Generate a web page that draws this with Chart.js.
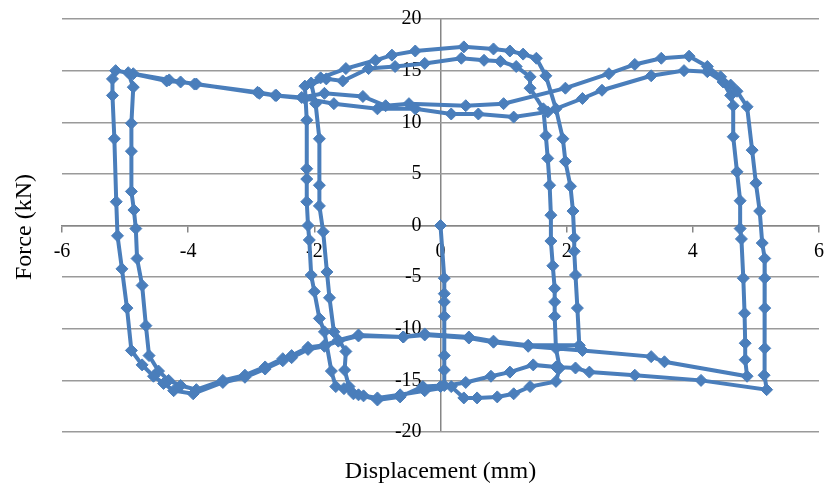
<!DOCTYPE html>
<html>
<head>
<meta charset="utf-8">
<script src="https://cdn.jsdelivr.net/npm/chart.js@4.4.1/dist/chart.umd.min.js"></script>
<style>
  html, body { margin: 0; padding: 0; background: #fff; }
  #wrap { width: 832px; height: 487px; }
</style>
</head>
<body>
<div id="wrap"><canvas id="chart"></canvas></div>
<script>
// [displacement (mm), force (kN)], in test order
var startPath = [[0, 0], [0.06, -5.1], [0.06, -6.6], [0.06, -7.4], [0.06, -8.8], [0.06, -12.6], [0.06, -14.0], [0.06, -15.5],
    [-0.28, -15.6], [-0.64, -16.6], [-1.0, -16.9], [-1.22, -16.5], [-1.38, -16.3], [-1.53, -15.8], [-1.66, -15.6], [-1.73, -14.1]];

var smallCycle1 = [[-1.84, -10.3], [-1.92, -9.0], [-2.00, -6.4], [-2.05, -4.8], [-2.08, -1.4], [-2.10, 0.0], [-2.12, 2.3],
    [-2.12, 4.5], [-2.12, 5.5], [-2.12, 10.2], [-2.15, 13.5],
    [-1.81, 14.2], [-1.55, 14.0], [-1.14, 15.2], [-0.72, 15.4], [-0.25, 15.7], [0.33, 16.2], [0.69, 16.0], [0.95, 15.9], [1.20, 15.4], [1.42, 14.4],
    [1.42, 13.3], [1.63, 11.3], [1.67, 8.7], [1.70, 6.5], [1.73, 3.9], [1.75, 1.0], [1.75, -1.5], [1.78, -3.9], [1.81, -6.1], [1.81, -7.4],
    [1.81, -8.8], [1.83, -11.9], [1.89, -13.8], [1.83, -15.1], [1.42, -15.6], [1.16, -16.3], [0.90, -16.6], [0.58, -16.7], [0.37, -16.7],
    [0.17, -15.6], [-0.25, -16.0], [-0.64, -16.4], [-1.00, -16.7], [-1.30, -16.4], [-1.45, -15.6]];

var smallCycle2 = [[-1.52, -14.0], [-1.50, -12.2], [-1.69, -10.3], [-1.76, -7.0], [-1.80, -4.5], [-1.86, -0.6], [-1.92, 1.9],
    [-1.92, 3.9], [-1.92, 8.4], [-1.98, 11.8], [-2.05, 13.8], [-1.90, 14.3], [-1.50, 15.2], [-1.03, 16.0], [-0.77, 16.5], [-0.40, 16.9],
    [0.37, 17.3], [0.84, 17.1], [1.10, 16.9], [1.31, 16.6], [1.52, 16.2], [1.67, 14.5], [1.83, 11.3], [1.94, 8.4], [1.98, 6.2], [2.06, 3.8],
    [2.10, 1.4], [2.12, -1.2], [2.12, -2.5], [2.14, -4.8], [2.17, -8.0], [2.20, -11.6]];

var largeCycle1 = [[1.39, -11.6], [0.84, -11.2], [0.45, -10.8], [-0.25, -10.5], [-0.59, -10.8], [-1.30, -10.6], [-1.62, -11.1], [-1.84, -11.6],
    [-2.10, -11.8], [-2.36, -12.6], [-2.50, -12.9], [-2.78, -13.7], [-3.10, -14.5], [-3.45, -15.0], [-3.87, -15.9], [-4.12, -15.5],
    [-4.31, -15.0], [-4.47, -14.1], [-4.62, -12.6], [-4.67, -9.7], [-4.73, -5.8], [-4.81, -3.2], [-4.83, -0.3], [-4.86, 1.5], [-4.90, 3.3],
    [-4.90, 7.2], [-4.90, 9.9], [-4.87, 13.4], [-4.95, 14.8], [-4.34, 14.0], [-4.12, 13.9], [-3.87, 13.7], [-2.87, 12.8], [-2.62, 12.6],
    [-2.15, 12.3], [-1.69, 11.8], [-1.00, 11.3], [-0.40, 11.3], [0.17, 10.8], [0.60, 10.8], [1.16, 10.5], [1.70, 11.0], [2.25, 12.3],
    [2.56, 13.1], [3.34, 14.5], [3.86, 15.0], [4.23, 14.9], [4.48, 13.9], [4.60, 12.6], [4.64, 11.6], [4.64, 8.6], [4.70, 5.2], [4.75, 2.4],
    [4.75, -0.3], [4.77, -1.3], [4.80, -5.1], [4.82, -8.5], [4.83, -11.4], [4.83, -13.0], [4.86, -14.6], [3.55, -13.2], [3.34, -12.7],
    [2.25, -12.1]];

var largeCycle2 = [[1.39, -11.7], [0.84, -11.3], [0.45, -10.9], [-0.25, -10.6], [-0.59, -10.8], [-1.30, -10.7], [-1.62, -11.2], [-1.84, -11.7],
    [-2.10, -12.0], [-2.36, -12.8], [-2.50, -13.1], [-2.78, -13.9], [-3.10, -14.7], [-3.45, -15.2], [-3.92, -16.3], [-4.23, -16.0],
    [-4.39, -15.3], [-4.55, -14.6], [-4.73, -13.5], [-4.90, -12.1], [-4.97, -8.0], [-5.05, -4.2], [-5.12, -1.0], [-5.14, 2.3], [-5.17, 8.4],
    [-5.20, 12.6], [-5.20, 14.2], [-5.15, 15.0], [-4.87, 14.7], [-4.30, 14.1], [-3.90, 13.7], [-2.90, 12.9], [-2.60, 12.6], [-2.20, 12.4],
    [-1.84, 12.8], [-1.23, 12.5], [-0.87, 11.6], [-0.50, 11.8], [0.40, 11.6], [1.00, 11.8], [1.98, 13.3], [2.67, 14.7], [3.08, 15.6],
    [3.50, 16.2], [3.94, 16.4], [4.23, 15.4], [4.44, 14.4], [4.60, 13.6], [4.70, 13.0], [4.86, 11.5], [4.94, 7.3], [5.00, 4.1], [5.06, 1.4],
    [5.10, -1.7], [5.14, -3.2], [5.14, -5.1], [5.14, -8.0], [5.14, -11.9], [5.13, -14.5], [5.17, -15.9]];

var endPath = [[4.13, -15.0], [3.08, -14.5], [2.36, -14.2], [2.14, -13.8], [1.83, -13.7], [1.47, -13.5], [1.10, -14.2], [0.80, -14.6],
    [0.40, -15.2], [0.0, -15.6]];

var xTicks = [-6, -4, -2, 0, 2, 4, 6];
var yTicks = [-20, -15, -10, -5, 0, 5, 10, 15, 20];

var serif = '"Liberation Serif", "Times New Roman", serif';
var axisGrey = '#868686';

var points = startPath.concat(smallCycle1, smallCycle2, largeCycle1, largeCycle2, endPath).map(function(p) {
    return {x: p[0], y: p[1]};
});

// axis titles sit at the outer edges, not on the centred axes
var axisTitles = {
    id: 'axisTitles',
    afterDraw: function(chart) {
        var ctx = chart.ctx;
        var area = chart.chartArea;
        ctx.save();
        ctx.fillStyle = '#000';
        ctx.font = '24px ' + serif;
        ctx.textAlign = 'center';
        ctx.textBaseline = 'alphabetic';
        ctx.fillText('Displacement (mm)', (area.left + area.right) / 2, 478);
        ctx.translate(31, 227);
        ctx.rotate(-Math.PI / 2);
        ctx.fillText('Force (kN)', 0, 0);
        ctx.restore();
    }
};

var ctx = document.getElementById('chart');
var chart = new Chart(ctx, {
    type: 'scatter',
    data: {
        datasets: [{
            label: 'Force',
            data: points,
            showLine: true,
            tension: 0,
            borderColor: '#4A7EBB',
            backgroundColor: '#4A7EBB',
            borderWidth: 4,
            pointStyle: 'rectRot',
            pointRadius: 6,
            pointBorderWidth: 1,
            pointBorderColor: '#4A7EBB',
            pointBackgroundColor: '#4A7EBB'
        }]
    },
    options: {
        responsive: true,
        maintainAspectRatio: false,
        animation: false,
        layout: { padding: { left: 62, right: 2, top: 19, bottom: 55 } },
        plugins: {
            legend: { display: false },
            tooltip: { enabled: false }
        },
        scales: {
            x: {
                type: 'linear',
                position: { y: 0 },
                min: -6,
                max: 6,
                afterBuildTicks: function(scale) {
                    scale.ticks = xTicks.map(function(v) { return {value: v}; });
                },
                afterFit: function(scale) { scale.height = 0; },
                ticks: { color: '#000', padding: 8, font: { family: serif, size: 20 } },
                grid: {
                    drawTicks: true,
                    tickLength: 6,
                    tickColor: axisGrey,
                    lineWidth: 1.5,
                    // only the x = 0 line is drawn across the plot (the vertical axis)
                    color: function(c) {
                        return c.tick && c.tick.value === 0 ? axisGrey : 'rgba(0,0,0,0)';
                    }
                },
                border: { color: axisGrey, width: 1.5 }
            },
            y: {
                type: 'linear',
                // labels are right-aligned on this position, just left of x = 0
                position: { x: -0.3 },
                min: -20,
                max: 20,
                afterBuildTicks: function(scale) {
                    scale.ticks = yTicks.map(function(v) { return {value: v}; });
                },
                afterFit: function(scale) { scale.width = 0; },
                ticks: { color: '#000', font: { family: serif, size: 20 } },
                grid: { drawTicks: false, color: '#9a9a9a', lineWidth: 1.5 },
                border: { display: false }
            }
        }
    },
    plugins: [axisTitles]
});
</script>
</body>
</html>
